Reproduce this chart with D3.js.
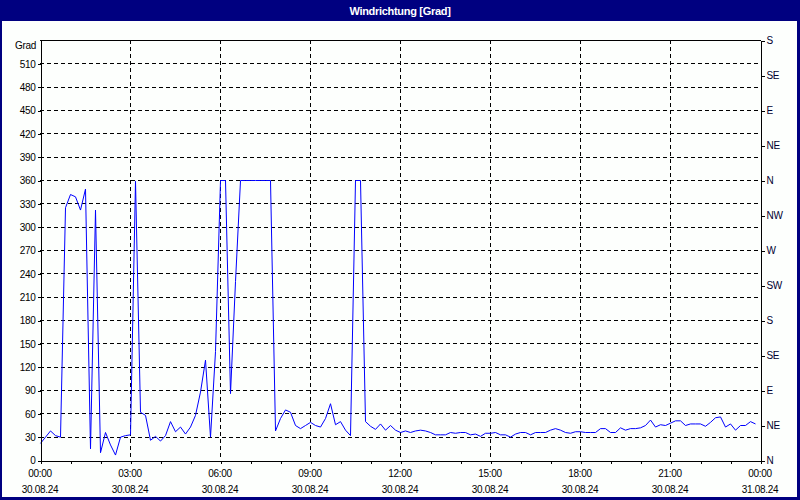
<!DOCTYPE html>
<html>
<head>
<meta charset="utf-8">
<script src="https://cdn.jsdelivr.net/npm/d3@7"></script>
<style>
  html, body { margin: 0; padding: 0; background: #ffffff; }
  svg { display: block; }
  text { font-family: "Liberation Sans", Arial, sans-serif; }
</style>
</head>
<body>
<svg id="chart" width="800" height="500"></svg>
<script>
// ---------- data ----------
const title = "Windrichtung [Grad]";
const yAxisTitle = "Grad";
const startTime = new Date(2024, 7, 30, 0, 0);   // 30.08.24 00:00
const endTime = new Date(2024, 7, 31, 0, 0);     // 31.08.24 00:00
const sampleMinutes = 10;
// wind direction in degrees, one value every 10 minutes from 00:00
const windDir = [
  22, 30, 38, 32, 30, 325, 342, 339, 322, 349,
  15, 322, 10, 36, 20, 7, 30, 32, 33, 359,
  62, 58, 26, 31, 25, 32, 50, 37, 43, 34,
  43, 58, 88, 129, 30, 140, 360, 360, 86, 230,
  360, 360, 360, 360, 360, 360, 360, 38, 54, 65,
  62, 45, 41, 45, 49, 45, 43, 54, 73, 46,
  50, 39, 32, 360, 360, 50, 44, 40, 47, 39,
  45, 39, 36, 38, 36, 38, 39, 38, 36, 33,
  33, 33, 36, 35, 36, 36, 33, 34, 31, 35,
  35, 36, 33, 33, 30, 34, 36, 36, 33, 36,
  36, 36, 39, 41, 39, 36, 35, 37, 37, 36,
  36, 36, 41, 41, 36, 36, 42, 39, 41, 41,
  42, 45, 52, 43, 46, 45, 48, 51, 51, 45,
  47, 47, 47, 44, 49, 55, 56, 43, 47, 39,
  45, 45, 50, 47
];
const gradTicks = [0, 30, 60, 90, 120, 150, 180, 210, 240, 270, 300, 330, 360, 390, 420, 450, 480, 510];
const gridValues = [30, 60, 90, 120, 150, 180, 210, 240, 270, 300, 330, 360, 390, 420, 450, 480, 510];
const compassTicks = [0, 45, 90, 135, 180, 225, 270, 315, 360, 405, 450, 495, 540];
const compassLabels = ["N", "NE", "E", "SE", "S", "SW", "W", "NW", "N", "NE", "E", "SE", "S"];
const timeLabels = ["00:00", "03:00", "06:00", "09:00", "12:00", "15:00", "18:00", "21:00", "00:00"];
const dateLabels = ["30.08.24", "30.08.24", "30.08.24", "30.08.24", "30.08.24", "30.08.24", "30.08.24", "30.08.24", "31.08.24"];

// ---------- layout ----------
const W = 800, H = 500;
const plot = { left: 40, right: 760, top: 40, bottom: 460 };
const navy = "#000080";

const svg = d3.select("#chart");

// background
svg.append("rect").attr("x", 0).attr("y", 0).attr("width", W).attr("height", H).attr("fill", "#fdfffd");

// title bar and frame
svg.append("rect").attr("x", 0).attr("y", 0).attr("width", W).attr("height", 21).attr("fill", navy);
svg.append("rect").attr("x", 0).attr("y", 0).attr("width", 2).attr("height", H).attr("fill", navy);
svg.append("rect").attr("x", W - 3).attr("y", 0).attr("width", 3).attr("height", H).attr("fill", navy);
svg.append("rect").attr("x", 0).attr("y", H - 3).attr("width", W).attr("height", 3).attr("fill", navy);
svg.append("text")
  .attr("x", 400).attr("y", 14.5)
  .attr("text-anchor", "middle")
  .attr("fill", "#ffffff")
  .attr("font-size", "11px").attr("font-weight", "bold")
  .attr("letter-spacing", "-0.3px")
  .text(title);

// scales
const x = d3.scaleTime().domain([startTime, endTime]).range([plot.left, plot.right]);
const y = d3.scaleLinear().domain([0, 540]).range([plot.bottom, plot.top]);

const points = windDir.map((v, i) => ({ t: new Date(startTime.getTime() + i * sampleMinutes * 60000), v }));

// grid
const grid = svg.append("g").attr("stroke", "#000").attr("stroke-width", 1)
  .attr("stroke-dasharray", "4,3").attr("shape-rendering", "crispEdges");
grid.selectAll("line.h").data(gridValues).join("line")
  .attr("class", "h")
  .attr("x1", plot.left).attr("x2", plot.right)
  .attr("y1", d => Math.round(y(d)) + 0.5).attr("y2", d => Math.round(y(d)) + 0.5);
const vGrid = d3.range(1, 8).map(k => new Date(startTime.getTime() + k * 3 * 3600000));
grid.selectAll("line.v").data(vGrid).join("line")
  .attr("class", "v")
  .attr("y1", plot.top).attr("y2", plot.bottom)
  .attr("x1", d => Math.round(x(d)) + 0.5).attr("x2", d => Math.round(x(d)) + 0.5);

// data line
const line = d3.line().x(d => x(d.t) + 0.5).y(d => y(d.v) + 0.5);
svg.append("path").datum(points)
  .attr("fill", "none").attr("stroke", "#0000ff").attr("stroke-width", 1)
  .attr("d", line);

// frame lines of plot area (top and axes)
svg.append("line").attr("x1", plot.left).attr("x2", plot.right + 1)
  .attr("y1", plot.top + 0.5).attr("y2", plot.top + 0.5)
  .attr("stroke", "#000").attr("shape-rendering", "crispEdges");

const tickFont = (g) => g.selectAll("text")
  .attr("font-family", "Liberation Sans, Arial, sans-serif")
  .attr("font-size", "10px").attr("letter-spacing", "-0.3px").attr("fill", "#000");

// left axis
const leftAxis = svg.append("g")
  .attr("transform", `translate(${plot.left + 0.5},0.5)`)
  .call(d3.axisLeft(y).tickValues(gradTicks).tickSize(3).tickPadding(2).tickSizeOuter(0).tickFormat(d3.format("d")));
leftAxis.select(".domain").attr("stroke", "#000");
leftAxis.selectAll("line").attr("stroke", "#000");
leftAxis.call(tickFont);
leftAxis.attr("shape-rendering", "crispEdges");

svg.append("text")
  .attr("x", 36).attr("y", 48.5)
  .attr("text-anchor", "end")
  .attr("font-size", "10px").attr("letter-spacing", "-0.3px")
  .attr("fill", "#000")
  .text(yAxisTitle);

// right axis (compass)
const rightAxis = svg.append("g")
  .attr("transform", `translate(${plot.right + 0.5},0.5)`)
  .call(d3.axisRight(y).tickValues(compassTicks).tickSize(4).tickPadding(2).tickSizeOuter(0)
    .tickFormat((d, i) => compassLabels[i]));
rightAxis.select(".domain").attr("stroke", "#000");
rightAxis.selectAll("line").attr("stroke", "#000");
rightAxis.call(tickFont);
rightAxis.selectAll("text").attr("fill", "#000030");
rightAxis.attr("shape-rendering", "crispEdges");

// bottom axis (hourly ticks)
const hourTicks = d3.range(0, 25).map(k => new Date(startTime.getTime() + k * 3600000));
const bottomAxis = svg.append("g")
  .attr("transform", `translate(0.5,${plot.bottom + 0.5})`)
  .call(d3.axisBottom(x).tickValues(hourTicks).tickSize(3).tickSizeOuter(0).tickFormat(() => ""));
bottomAxis.select(".domain").attr("stroke", "#000");
bottomAxis.selectAll("line").attr("stroke", "#000");
bottomAxis.attr("shape-rendering", "crispEdges");

const labelTimes = d3.range(0, 9).map(k => new Date(startTime.getTime() + k * 3 * 3600000));
const xl = svg.append("g").attr("font-size", "10px").attr("letter-spacing", "-0.3px").attr("fill", "#000");
xl.selectAll("text.time").data(labelTimes).join("text")
  .attr("class", "time")
  .attr("x", d => x(d)).attr("y", 477)
  .attr("text-anchor", "middle")
  .text((d, i) => timeLabels[i]);
xl.selectAll("text.date").data(labelTimes).join("text")
  .attr("class", "date")
  .attr("x", d => x(d)).attr("y", 493)
  .attr("text-anchor", "middle")
  .text((d, i) => dateLabels[i]);
</script>
</body>
</html>
